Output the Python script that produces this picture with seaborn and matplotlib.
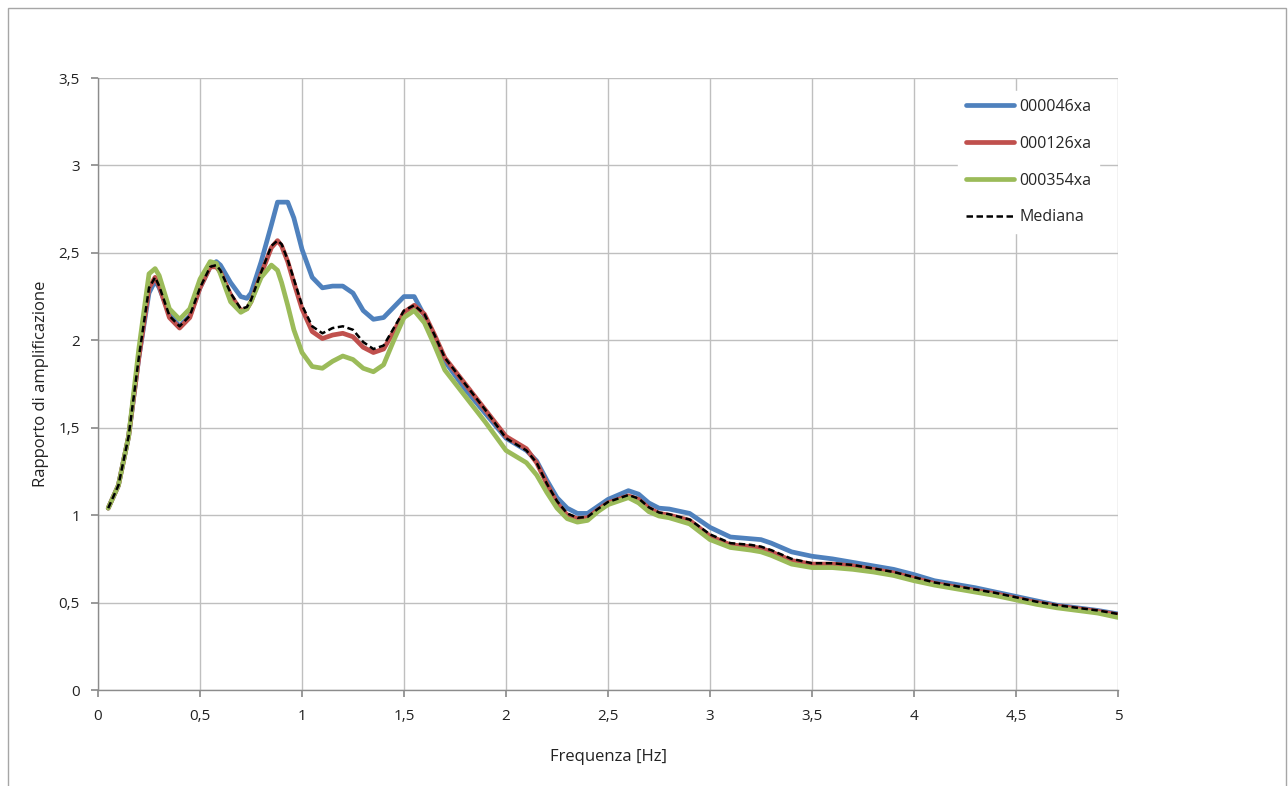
import matplotlib
matplotlib.use("Agg")
import matplotlib.pyplot as plt
import seaborn as sns
import pandas as pd
from matplotlib.patches import Rectangle
from matplotlib.lines import Line2D

freq = [0.05, 0.10, 0.15, 0.20, 0.25, 0.28, 0.30, 0.35, 0.40, 0.45, 0.50, 0.55, 0.58, 0.60,
        0.65, 0.70, 0.73, 0.75, 0.80, 0.85, 0.88, 0.90, 0.93, 0.96, 1.00, 1.05, 1.10, 1.15,
        1.20, 1.25, 1.30, 1.35, 1.40, 1.45, 1.50, 1.55, 1.60, 1.65, 1.70, 1.80, 1.90, 2.00,
        2.10, 2.15, 2.20, 2.25, 2.30, 2.35, 2.40, 2.45, 2.50, 2.60, 2.65, 2.70, 2.75, 2.80,
        2.90, 3.00, 3.10, 3.20, 3.25, 3.30, 3.40, 3.50, 3.60, 3.70, 3.80, 3.90, 4.00, 4.10,
        4.20, 4.30, 4.40, 4.50, 4.60, 4.70, 4.80, 4.90, 5.00]

s046 = [1.04, 1.17, 1.45, 1.90, 2.27, 2.34, 2.30, 2.15, 2.08, 2.14, 2.30, 2.42, 2.45, 2.43,
        2.33, 2.25, 2.24, 2.27, 2.45, 2.66, 2.79, 2.79, 2.79, 2.70, 2.52, 2.36, 2.30, 2.31,
        2.31, 2.27, 2.17, 2.12, 2.13, 2.19, 2.25, 2.25, 2.14, 2.00, 1.88, 1.72, 1.58, 1.44,
        1.37, 1.31, 1.20, 1.10, 1.04, 1.01, 1.01, 1.05, 1.09, 1.14, 1.12, 1.07, 1.04, 1.035,
        1.01, 0.93, 0.875, 0.865, 0.86, 0.84, 0.79, 0.765, 0.75, 0.73, 0.71, 0.69, 0.66, 0.625,
        0.605, 0.585, 0.56, 0.535, 0.51, 0.485, 0.47, 0.455, 0.435]

s126 = [1.04, 1.17, 1.45, 1.90, 2.30, 2.36, 2.31, 2.13, 2.07, 2.13, 2.30, 2.42, 2.42, 2.39,
        2.26, 2.17, 2.18, 2.22, 2.38, 2.53, 2.57, 2.54, 2.45, 2.33, 2.18, 2.05, 2.01, 2.03,
        2.04, 2.02, 1.96, 1.93, 1.95, 2.05, 2.16, 2.20, 2.15, 2.03, 1.90, 1.75, 1.60, 1.45,
        1.38, 1.30, 1.18, 1.07, 1.00, 0.98, 0.985, 1.03, 1.07, 1.11, 1.09, 1.04, 1.01, 1.00,
        0.97, 0.88, 0.83, 0.82, 0.81, 0.79, 0.74, 0.72, 0.72, 0.71, 0.69, 0.67, 0.64, 0.61,
        0.59, 0.57, 0.55, 0.525, 0.50, 0.48, 0.465, 0.45, 0.43]

s354 = [1.04, 1.17, 1.45, 1.95, 2.38, 2.41, 2.37, 2.18, 2.12, 2.18, 2.35, 2.45, 2.44, 2.38,
        2.22, 2.16, 2.18, 2.22, 2.36, 2.43, 2.40, 2.33, 2.20, 2.06, 1.93, 1.85, 1.84, 1.88,
        1.91, 1.89, 1.84, 1.82, 1.86, 2.00, 2.13, 2.17, 2.10, 1.97, 1.83, 1.68, 1.53, 1.37,
        1.30, 1.23, 1.13, 1.04, 0.98, 0.96, 0.97, 1.02, 1.06, 1.10, 1.07, 1.02, 0.995, 0.985,
        0.95, 0.86, 0.815, 0.80, 0.79, 0.77, 0.72, 0.70, 0.70, 0.69, 0.675, 0.655, 0.625, 0.60,
        0.58, 0.56, 0.54, 0.515, 0.49, 0.47, 0.455, 0.44, 0.415]

mediana = [1.04, 1.17, 1.45, 1.90, 2.30, 2.36, 2.31, 2.14, 2.08, 2.14, 2.30, 2.42, 2.43, 2.40,
           2.27, 2.18, 2.19, 2.23, 2.39, 2.54, 2.57, 2.55, 2.46, 2.35, 2.20, 2.08, 2.04, 2.07,
           2.08, 2.06, 1.99, 1.95, 1.97, 2.07, 2.17, 2.20, 2.15, 2.03, 1.90, 1.75, 1.60, 1.44,
           1.37, 1.30, 1.18, 1.08, 1.01, 0.985, 0.99, 1.035, 1.075, 1.115, 1.095, 1.045, 1.015, 1.005,
           0.975, 0.89, 0.84, 0.83, 0.82, 0.80, 0.75, 0.725, 0.725, 0.715, 0.695, 0.675, 0.645, 0.615,
           0.595, 0.575, 0.555, 0.53, 0.505, 0.485, 0.47, 0.455, 0.435]

series_names = ["000046xa", "000126xa", "000354xa"]
series_colors = ["#4F81BD", "#C0504D", "#9BBB59"]

xticks = [0, 0.5, 1, 1.5, 2, 2.5, 3, 3.5, 4, 4.5, 5]
xtick_labels = ["0", "0,5", "1", "1,5", "2", "2,5", "3", "3,5", "4", "4,5", "5"]
yticks = [0, 0.5, 1, 1.5, 2, 2.5, 3, 3.5]
ytick_labels = ["0", "0,5", "1", "1,5", "2", "2,5", "3", "3,5"]

sns.set_theme(style="white")
plt.rcParams["font.family"] = ["Open Sans", "DejaVu Sans"]

fig = plt.figure(figsize=(12.88, 7.86), dpi=100)
ax = fig.add_axes([98 / 1288, 1 - 690 / 786, (1118 - 98) / 1288, (690 - 78) / 786])

fig.patches.append(Rectangle((8 / 1288, -0.01), (1286 - 8) / 1288, 1.01 - 8 / 786,
                             transform=fig.transFigure, fill=False,
                             edgecolor="#a6a6a6", linewidth=1.0))

LW = 3.4
for name, vals, col in zip(series_names, [s046, s126, s354], series_colors):
    df = pd.DataFrame({"f": freq, "v": vals})
    sns.lineplot(data=df, x="f", y="v", ax=ax, color=col, linewidth=LW,
                 sort=False, estimator=None, label=name, zorder=3)
    ax.lines[-1].set_solid_joinstyle("round")
    ax.lines[-1].set_solid_capstyle("round")

dfm = pd.DataFrame({"f": freq, "v": mediana})
sns.lineplot(data=dfm, x="f", y="v", ax=ax, color="black", linewidth=1.8,
             sort=False, estimator=None, label="Mediana", zorder=4)
ax.lines[-1].set_dashes([2.6, 1.4])

ax.set_xlim(0, 5)
ax.set_ylim(0, 3.5)
ax.set_xticks(xticks)
ax.set_xticklabels(xtick_labels, fontsize=11)
ax.set_yticks(yticks)
ax.set_yticklabels(ytick_labels, fontsize=11)
ax.grid(True, color="#bfbfbf", linewidth=1.0)
ax.set_axisbelow(True)
for sp in ["top", "right"]:
    ax.spines[sp].set_visible(False)
for sp in ["left", "bottom"]:
    ax.spines[sp].set_color("#8c8c8c")
    ax.spines[sp].set_linewidth(1.0)
ax.tick_params(axis="both", length=5, color="#8c8c8c", direction="out",
               left=True, bottom=True, labelcolor="#222222")
ax.tick_params(axis="x", pad=9)
ax.tick_params(axis="y", pad=8)

ax.set_xlabel("Frequenza [Hz]", fontsize=12, labelpad=18, color="#222222")
ax.set_ylabel("Rapporto di amplificazione", fontsize=12, labelpad=7, color="#222222")

handles = [Line2D([], [], color=c, linewidth=LW) for c in series_colors]
mh = Line2D([], [], color="black", linewidth=1.8)
mh.set_dashes([2.6, 1.4])
handles.append(mh)
leg = ax.legend(handles, series_names + ["Mediana"], loc="upper left",
                bbox_to_anchor=(958 / 1288, 1 - 91 / 786), bbox_transform=fig.transFigure,
                frameon=True, fontsize=11.5, handlelength=3.0, handletextpad=0.35,
                labelspacing=1.3, borderpad=0.5, borderaxespad=0)
leg.get_frame().set_facecolor("white")
leg.get_frame().set_edgecolor("white")
leg.get_frame().set_alpha(1.0)

fig.savefig("out.png", dpi=100, facecolor="white")
